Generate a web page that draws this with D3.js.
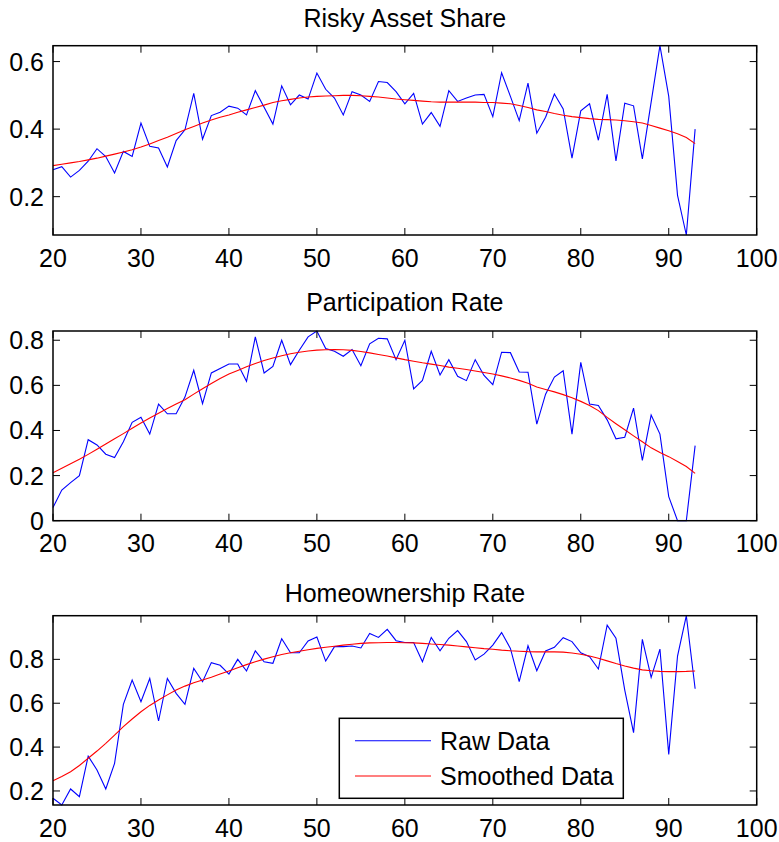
<!DOCTYPE html>
<html>
<head>
<meta charset="utf-8">
<script src="https://cdn.jsdelivr.net/npm/d3@7"></script>
<style>
  body { margin: 0; background: #fff; }
  text { font-family: "Liberation Sans", Arial, sans-serif; fill: #000; }
</style>
</head>
<body>
<svg id="chart" width="779" height="842"></svg>
<script>
// ages 20..93
const ages = d3.range(20, 94);

const riskyRaw = [0.280, 0.289, 0.258, 0.278, 0.305, 0.342, 0.319, 0.270, 0.334, 0.319,
  0.418, 0.349, 0.344, 0.288, 0.366, 0.398, 0.506, 0.370, 0.440, 0.450,
  0.468, 0.462, 0.442, 0.514, 0.465, 0.415, 0.528, 0.472, 0.501, 0.489,
  0.566, 0.518, 0.492, 0.442, 0.511, 0.501, 0.482, 0.541, 0.538, 0.511,
  0.475, 0.506, 0.415, 0.449, 0.408, 0.514, 0.482, 0.492, 0.501, 0.503,
  0.437, 0.567, 0.497, 0.425, 0.536, 0.388, 0.435, 0.504, 0.460, 0.314,
  0.454, 0.475, 0.367, 0.503, 0.306, 0.477, 0.469, 0.312, 0.480, 0.647,
  0.497, 0.204, 0.0865, 0.400];
const riskySmooth = [0.292, 0.296, 0.300, 0.304, 0.309, 0.314, 0.320, 0.326, 0.332, 0.339,
  0.347, 0.356, 0.366, 0.376, 0.387, 0.398, 0.408, 0.418, 0.427, 0.435,
  0.442, 0.450, 0.457, 0.464, 0.471, 0.479, 0.484, 0.488, 0.492, 0.495,
  0.497, 0.498, 0.499, 0.500, 0.500, 0.499, 0.497, 0.495, 0.492, 0.489,
  0.487, 0.485, 0.483, 0.481, 0.480, 0.480, 0.480, 0.480, 0.480, 0.479,
  0.479, 0.477, 0.475, 0.470, 0.464, 0.457, 0.452, 0.446, 0.441, 0.437,
  0.434, 0.431, 0.429, 0.428, 0.427, 0.425, 0.422, 0.418, 0.411, 0.403,
  0.395, 0.386, 0.375, 0.357];

const partRaw = [0.059, 0.136, 0.169, 0.200, 0.359, 0.336, 0.295, 0.280, 0.350, 0.436,
  0.459, 0.384, 0.517, 0.474, 0.474, 0.548, 0.667, 0.519, 0.655, 0.675,
  0.695, 0.695, 0.618, 0.815, 0.655, 0.684, 0.800, 0.692, 0.756, 0.815,
  0.841, 0.763, 0.751, 0.729, 0.759, 0.687, 0.784, 0.809, 0.806, 0.714,
  0.800, 0.584, 0.622, 0.751, 0.646, 0.714, 0.640, 0.621, 0.714, 0.644,
  0.603, 0.747, 0.745, 0.659, 0.658, 0.428, 0.561, 0.637, 0.665, 0.384,
  0.702, 0.517, 0.511, 0.447, 0.363, 0.370, 0.499, 0.267, 0.468, 0.384,
  0.107, 0.000, 0.000, 0.333];
const partSmooth = [0.213, 0.232, 0.252, 0.272, 0.294, 0.317, 0.340, 0.363, 0.386, 0.410,
  0.433, 0.455, 0.476, 0.497, 0.517, 0.536, 0.561, 0.585, 0.608, 0.630,
  0.650, 0.666, 0.682, 0.697, 0.710, 0.721, 0.731, 0.740, 0.747, 0.752,
  0.756, 0.758, 0.759, 0.758, 0.755, 0.750, 0.744, 0.737, 0.730, 0.722,
  0.714, 0.707, 0.700, 0.694, 0.688, 0.681, 0.676, 0.670, 0.664, 0.657,
  0.650, 0.642, 0.633, 0.622, 0.609, 0.593, 0.582, 0.571, 0.559, 0.545,
  0.529, 0.511, 0.488, 0.458, 0.430, 0.403, 0.376, 0.350, 0.323, 0.302,
  0.284, 0.262, 0.240, 0.210];

const homeRaw = [0.167, 0.136, 0.209, 0.174, 0.359, 0.296, 0.209, 0.326, 0.595, 0.706,
  0.607, 0.713, 0.519, 0.713, 0.645, 0.595, 0.759, 0.698, 0.785, 0.773,
  0.733, 0.800, 0.747, 0.839, 0.789, 0.782, 0.894, 0.830, 0.830, 0.884,
  0.902, 0.792, 0.858, 0.858, 0.861, 0.852, 0.918, 0.900, 0.937, 0.885,
  0.877, 0.877, 0.789, 0.900, 0.839, 0.896, 0.931, 0.881, 0.797, 0.824,
  0.865, 0.922, 0.850, 0.698, 0.862, 0.748, 0.838, 0.855, 0.899, 0.881,
  0.830, 0.812, 0.756, 0.956, 0.896, 0.660, 0.466, 0.891, 0.718, 0.847,
  0.367, 0.815, 0.999, 0.666];
const homeSmooth = [0.247, 0.266, 0.288, 0.316, 0.349, 0.382, 0.417, 0.455, 0.493, 0.528,
  0.561, 0.590, 0.615, 0.638, 0.660, 0.678, 0.693, 0.706, 0.718, 0.733,
  0.747, 0.762, 0.776, 0.789, 0.801, 0.812, 0.822, 0.830, 0.837, 0.844,
  0.850, 0.855, 0.860, 0.865, 0.869, 0.873, 0.875, 0.876, 0.877, 0.877,
  0.876, 0.875, 0.873, 0.870, 0.868, 0.865, 0.861, 0.857, 0.853, 0.849,
  0.846, 0.842, 0.839, 0.837, 0.835, 0.834, 0.834, 0.834, 0.833, 0.829,
  0.823, 0.815, 0.805, 0.793, 0.781, 0.770, 0.760, 0.752, 0.748, 0.745,
  0.744, 0.744, 0.745, 0.747];

const xTicks = [20, 30, 40, 50, 60, 70, 80, 90, 100];
const panelTitles = ["Risky Asset Share", "Participation Rate", "Homeownership Rate"];
const legendLabels = ["Raw Data", "Smoothed Data"];

const panels = [
  { title: panelTitles[0], raw: riskyRaw, smooth: riskySmooth, top: 45.7, bottom: 235, titleY: 27, yTicks: [0.2, 0.4, 0.6] },
  { title: panelTitles[1], raw: partRaw, smooth: partSmooth, top: 331, bottom: 520.7, titleY: 310.5, yTicks: [0, 0.2, 0.4, 0.6, 0.8] },
  { title: panelTitles[2], raw: homeRaw, smooth: homeSmooth, top: 615.7, bottom: 805, titleY: 601.5, yTicks: [0.2, 0.4, 0.6, 0.8] }
];

const left = 53, right = 756.7;
const tickLen = 7;
const fontSize = 25;

const svg = d3.select("#chart");

const x = d3.scaleLinear().domain([20, 100]).range([left, right]);

panels.forEach((p, i) => {
  // y range is tight to the data, like matlab's axis tight
  const ext = d3.extent(p.raw.concat(p.smooth));
  const y = d3.scaleLinear().domain(ext).range([p.bottom, p.top]);

  const g = svg.append("g").attr("class", "panel");

  const line = d3.line()
    .x((d, j) => x(ages[j]))
    .y(d => y(d));

  g.append("path")
    .datum(p.raw)
    .attr("d", line)
    .attr("fill", "none")
    .attr("stroke", "#0000ff")
    .attr("stroke-width", 1.1);

  g.append("path")
    .datum(p.smooth)
    .attr("d", line)
    .attr("fill", "none")
    .attr("stroke", "#ff0000")
    .attr("stroke-width", 1.1);

  // ticks pointing inward on all four sides
  const tickG = g.append("g").attr("stroke", "#000").attr("stroke-width", 1);
  xTicks.forEach(t => {
    tickG.append("line").attr("x1", x(t)).attr("x2", x(t)).attr("y1", p.bottom).attr("y2", p.bottom - tickLen);
    tickG.append("line").attr("x1", x(t)).attr("x2", x(t)).attr("y1", p.top).attr("y2", p.top + tickLen);
  });
  p.yTicks.forEach(t => {
    tickG.append("line").attr("x1", left).attr("x2", left + tickLen).attr("y1", y(t)).attr("y2", y(t));
    tickG.append("line").attr("x1", right).attr("x2", right - tickLen).attr("y1", y(t)).attr("y2", y(t));
  });

  // box
  g.append("rect")
    .attr("x", left)
    .attr("y", p.top)
    .attr("width", right - left)
    .attr("height", p.bottom - p.top)
    .attr("fill", "none")
    .attr("stroke", "#000")
    .attr("stroke-width", 1.5);

  // tick labels
  g.selectAll(".xlab")
    .data(xTicks)
    .enter()
    .append("text")
    .attr("class", "xlab")
    .attr("x", d => x(d))
    .attr("y", p.bottom + 31.5)
    .attr("text-anchor", "middle")
    .style("font-size", fontSize + "px")
    .text(d => d);

  g.selectAll(".ylab")
    .data(p.yTicks)
    .enter()
    .append("text")
    .attr("class", "ylab")
    .attr("x", left - 9)
    .attr("y", d => y(d))
    .attr("dy", "0.36em")
    .attr("text-anchor", "end")
    .style("font-size", fontSize + "px")
    .text(d => d3.format("")(d));

  g.append("text")
    .attr("x", (left + right) / 2)
    .attr("y", p.titleY)
    .attr("text-anchor", "middle")
    .style("font-size", fontSize + "px")
    .text(p.title);
});

// legend in the bottom panel
const legend = svg.append("g").attr("class", "legend");
legend.append("rect")
  .attr("x", 339.3)
  .attr("y", 718.3)
  .attr("width", 284)
  .attr("height", 80)
  .attr("fill", "#fff")
  .attr("stroke", "#000")
  .attr("stroke-width", 1.5);

const legendColors = ["#0000ff", "#ff0000"];
const legendY = [740.7, 776];
legendLabels.forEach((lab, i) => {
  legend.append("line")
    .attr("x1", 355).attr("x2", 431)
    .attr("y1", legendY[i]).attr("y2", legendY[i])
    .attr("stroke", legendColors[i])
    .attr("stroke-width", 1.1);
  legend.append("text")
    .attr("x", 440)
    .attr("y", legendY[i])
    .attr("dy", "0.36em")
    .style("font-size", fontSize + "px")
    .text(lab);
});
</script>
</body>
</html>
